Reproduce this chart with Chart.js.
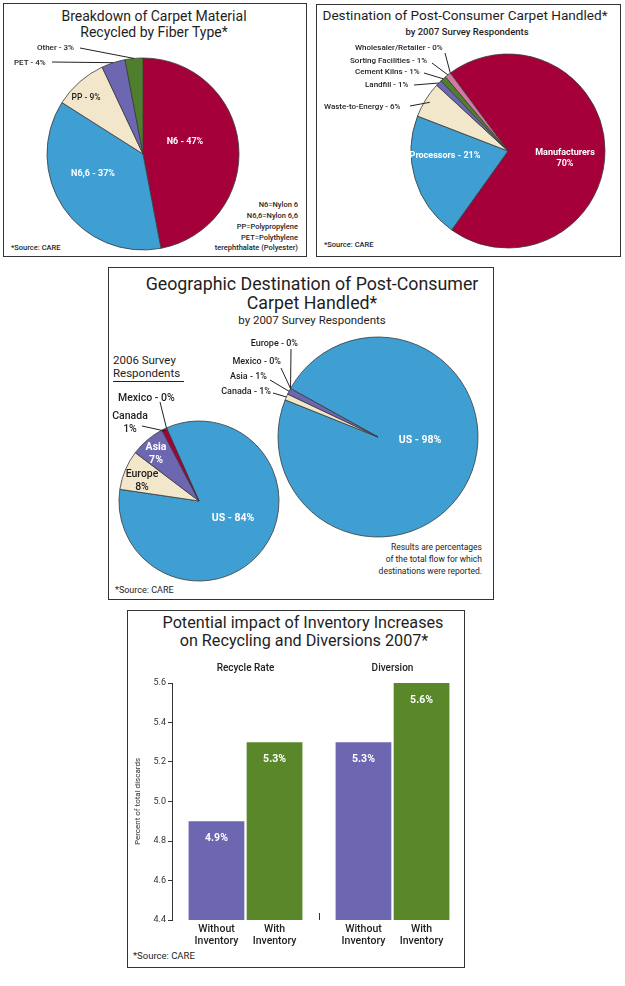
<!DOCTYPE html>
<html>
<head>
<meta charset="utf-8">
<script src="https://cdn.jsdelivr.net/npm/chart.js@4.4.1/dist/chart.umd.min.js"></script>
<style>
  body { margin: 0; background: #fff; width: 625px; height: 986px; position: relative; overflow: hidden;
         font-family: Roboto, "DejaVu Sans", sans-serif; color: #1e1e1e; }
  .box { position: absolute; border: 1.5px solid #333; box-sizing: border-box; }
  .t { position: absolute; white-space: nowrap; line-height: 1; transform: translate(-50%, -50%); }
  .l { transform: translate(0, -50%); }
  .r { transform: translate(-100%, -50%); text-align: right; }
  .s { font-weight: 500; }
  canvas { position: absolute; left: 0; top: 0; }
</style>
</head>
<body>
<div class="box" style="left:3px;top:3px;width:304px;height:254px"></div>
<div class="box" style="left:316px;top:4px;width:305px;height:253px"></div>
<div class="box" style="left:108px;top:267px;width:386px;height:333px"></div>
<div class="box" style="left:127px;top:610px;width:338px;height:358px"></div>

<!-- panel 1 -->
<div class="t" style="left:154px;top:16px;font-size:14px">Breakdown of Carpet Material</div>
<div class="t" style="left:154px;top:32px;font-size:14px">Recycled by Fiber Type*</div>
<div class="t r s" style="left:298px;top:205px;font-size:7.5px">N6=Nylon 6</div>
<div class="t r s" style="left:298px;top:216px;font-size:7.5px">N6,6=Nylon 6,6</div>
<div class="t r s" style="left:298px;top:227px;font-size:7.5px">PP=Polypropylene</div>
<div class="t r s" style="left:298px;top:238px;font-size:7.5px">PET=Polythylene</div>
<div class="t r s" style="left:298px;top:248px;font-size:7.5px">terephthalate (Polyester)</div>
<div class="t l s" style="left:11px;top:248px;font-size:7.5px">*Source: CARE</div>

<!-- panel 2 -->
<div class="t" style="left:465px;top:16px;font-size:13.6px">Destination of Post-Consumer Carpet Handled*</div>
<div class="t s" style="left:467px;top:32px;font-size:9.5px">by 2007 Survey Respondents</div>
<div class="t l s" style="left:324px;top:245px;font-size:7.5px">*Source: CARE</div>

<!-- panel 3 -->
<div class="t" style="left:312px;top:284px;font-size:17.8px">Geographic Destination of Post-Consumer</div>
<div class="t" style="left:312px;top:303px;font-size:17.8px">Carpet Handled*</div>
<div class="t" style="left:312px;top:321px;font-size:11.5px">by 2007 Survey Respondents</div>
<div style="position:absolute;left:113px;top:354px;font-size:11.5px;line-height:13px;border-bottom:1px solid #222;padding-bottom:1px;width:71px">2006 Survey<br>Respondents</div>
<div class="t r" style="left:482px;top:547px;font-size:8.5px">Results are percentages</div>
<div class="t r" style="left:482px;top:559px;font-size:8.5px">of the total flow for which</div>
<div class="t r" style="left:482px;top:571px;font-size:8.5px">destinations were reported.</div>
<div class="t l" style="left:115px;top:590px;font-size:9px">*Source: CARE</div>

<!-- panel 4 -->
<div class="t" style="left:303px;top:623px;font-size:16.2px">Potential impact of Inventory Increases</div>
<div class="t" style="left:304px;top:641px;font-size:16.2px">on Recycling and Diversions 2007*</div>
<div class="t l" style="left:133px;top:956px;font-size:9.5px">*Source: CARE</div>

<canvas id="fiberChart" width="625" height="986"></canvas>
<canvas id="destChart" width="625" height="986"></canvas>
<canvas id="geo2006Chart" width="625" height="986"></canvas>
<canvas id="geo2007Chart" width="625" height="986"></canvas>
<canvas id="invChart" width="338" height="290" style="left:128px;top:660px"></canvas>

<script>
Chart.defaults.animation = false;

// --- data ---
const fiberLabels = ['N6', 'N6,6', 'PP', 'PET', 'Other'];
const fiberValues = [47, 37, 9, 4, 3];

const destLabels = ['Manufacturers', 'Processors', 'Waste-to-Energy', 'Landfill', 'Cement Kilns', 'Sorting Facilities', 'Wholesaler/Retailer'];
const destValues = [70, 21, 6, 1, 1, 1, 0];

const geo2006Labels = ['US', 'Europe', 'Asia', 'Canada', 'Mexico'];
const geo2006Values = [84, 8, 7, 1, 0];

const geo2007Labels = ['US', 'Canada', 'Asia', 'Mexico', 'Europe'];
const geo2007Values = [98, 1, 1, 0, 0];

const invGroups = ['Recycle Rate', 'Diversion'];
const invSeries = ['Without Inventory', 'With Inventory'];
const invWithout = [4.9, 5.3];
const invWith = [5.3, 5.6];
const yTicks = [4.4, 4.6, 4.8, 5.0, 5.2, 5.4, 5.6];

// --- look ---
const W = 625, H = 986;
const FONT = 'Roboto, "DejaVu Sans", sans-serif';
const RED = '#A5003A', BLUE = '#3F9FD3', BEIGE = '#F3E7CB', PURPLE = '#6C67B0', GREEN = '#4F7F2C', PINK = '#D47AA2';

// labels + leader lines for pie slices
const sliceText = {
  id: 'sliceText',
  afterDraw(chart, args, opts) {
    const ctx = chart.ctx;
    const meta = chart.getDatasetMeta(0);
    const labels = chart.data.labels, values = chart.data.datasets[0].data;
    (opts.items || []).forEach((it, i) => {
      if (!it) return;
      const arc = meta.data[i];
      const size = it.size || 8;
      const lines = it.stack ? [labels[i], values[i] + '%'] : [labels[i] + ' - ' + values[i] + '%'];
      ctx.save();
      ctx.font = (it.bold ? 'bold ' : '500 ') + size + 'px ' + FONT;
      ctx.fillStyle = it.color || '#1e1e1e';
      ctx.textAlign = it.align || 'center';
      ctx.textBaseline = 'middle';
      const lh = size * 1.2;
      lines.forEach((s, k) => ctx.fillText(s, it.x, it.y + (k - (lines.length - 1) / 2) * lh));
      if (it.from) {
        const mid = (arc.startAngle + arc.endAngle) / 2;
        const r = arc.outerRadius * (it.f || 1);
        ctx.strokeStyle = '#222';
        ctx.lineWidth = 1;
        ctx.beginPath();
        ctx.moveTo(it.from[0], it.from[1]);
        ctx.lineTo(arc.x + Math.cos(mid) * r, arc.y + Math.sin(mid) * r);
        ctx.stroke();
      }
      ctx.restore();
    });
  }
};

function makePie(id, labels, values, colors, rotation, cx, cy, r, items) {
  new Chart(document.getElementById(id), {
    type: 'pie',
    data: { labels: labels, datasets: [{ data: values, backgroundColor: colors, borderColor: '#3a3a3a', borderWidth: 0.8 }] },
    options: {
      responsive: false, animation: false, events: [],
      rotation: rotation, radius: r,
      layout: { padding: { left: cx - r - 3, right: W - cx - r - 3, top: cy - r - 3, bottom: H - cy - r - 3 } },
      plugins: { legend: { display: false }, tooltip: { enabled: false }, sliceText: { items: items } }
    },
    plugins: [sliceText]
  });
}

makePie('fiberChart', fiberLabels, fiberValues, [RED, BLUE, BEIGE, PURPLE, GREEN], 0, 143, 154, 96, [
  { x: 185, y: 142, color: '#fff', bold: true, size: 9 },
  { x: 93, y: 174, color: '#fff', bold: true, size: 9 },
  { x: 86, y: 98, size: 8.5 },
  { x: 14, y: 63, align: 'left', from: [52, 62] },
  { x: 37, y: 48, align: 'left', from: [80, 48] }
]);

makePie('destChart', destLabels, destValues, [RED, BLUE, BEIGE, PURPLE, GREEN, PINK, '#999'], -36.5, 508, 151, 97, [
  { x: 565, y: 158, color: '#fff', bold: true, size: 9, stack: true },
  { x: 445, y: 156, color: '#fff', bold: true, size: 9 },
  { x: 324, y: 107, align: 'left', from: [410, 106], f: 0.95 },
  { x: 365, y: 85, align: 'left', from: [414, 85] },
  { x: 355, y: 72, align: 'left', from: [424, 73] },
  { x: 350, y: 61, align: 'left', from: [432, 63] },
  { x: 355, y: 48, align: 'left', from: [445, 53] }
]);

makePie('geo2006Chart', geo2006Labels, geo2006Values, [BLUE, BEIGE, PURPLE, RED, '#999'], -24, 199, 501, 80, [
  { x: 233, y: 518, color: '#fff', bold: true, size: 10.5 },
  { x: 142, y: 481, size: 10.5, stack: true },
  { x: 156, y: 454, color: '#fff', bold: true, size: 10.5, stack: true },
  { x: 130, y: 423, size: 10.5, stack: true, from: [142, 426], f: 0.97 },
  { x: 118, y: 398, size: 10.5, align: 'left', from: [160, 402] }
]);

makePie('geo2007Chart', geo2007Labels, geo2007Values, [BLUE, BEIGE, PURPLE, '#999', '#999'], -61, 378, 437, 100, [
  { x: 420, y: 440, color: '#fff', bold: true, size: 10.5 },
  { x: 271, y: 392, size: 9, align: 'right', from: [273, 393] },
  { x: 267, y: 377, size: 9, align: 'right', from: [270, 380] },
  { x: 281, y: 362, size: 9, align: 'right', from: [281, 368] },
  { x: 298, y: 344, size: 9, align: 'right', from: [291, 349] }
]);

// group names above, value labels inside bars, two-line series names under them
const barText = {
  id: 'barText',
  afterDatasetsDraw(chart) {
    const ctx = chart.ctx;
    const area = chart.chartArea;
    const xs = chart.scales.x;
    ctx.save();
    ctx.textAlign = 'center';
    ctx.textBaseline = 'middle';
    ctx.fillStyle = '#222';
    ctx.font = '500 10px ' + FONT;
    chart.data.labels.forEach((g, j) => ctx.fillText(g, xs.getPixelForValue(j), area.top - 15));
    chart.data.datasets.forEach((ds, i) => {
      chart.getDatasetMeta(i).data.forEach((bar, j) => {
        ctx.fillStyle = '#fff';
        ctx.font = 'bold 10.5px ' + FONT;
        ctx.fillText(ds.data[j].toFixed(1) + '%', bar.x, bar.y + 17);
        ctx.fillStyle = '#1e1e1e';
        ctx.font = '500 10.5px ' + FONT;
        ds.label.split(' ').forEach((w, k) => ctx.fillText(w, bar.x, area.bottom + 9 + k * 12));
      });
    });
    const mx = Math.round((xs.getPixelForValue(0) + xs.getPixelForValue(1)) / 2) + 0.5;
    ctx.strokeStyle = '#333';
    ctx.lineWidth = 1;
    ctx.beginPath();
    ctx.moveTo(mx, area.bottom);
    ctx.lineTo(mx, area.bottom - 7);
    ctx.stroke();
    ctx.restore();
  }
};

new Chart(document.getElementById('invChart'), {
  type: 'bar',
  data: {
    labels: invGroups,
    datasets: [
      { label: invSeries[0], data: invWithout, backgroundColor: '#6D67B1', categoryPercentage: 0.79, barPercentage: 0.96 },
      { label: invSeries[1], data: invWith, backgroundColor: '#5B872B', categoryPercentage: 0.79, barPercentage: 0.96 }
    ]
  },
  options: {
    responsive: false, animation: false, events: [],
    layout: { padding: { left: 0, right: 0, top: 0, bottom: 30 } },
    scales: {
      x: {
        position: 'top',
        grid: { display: false }, border: { display: false },
        ticks: { display: false },
        afterFit(s) { s.height = 23; }
      },
      y: {
        min: 4.4, max: 5.6,
        afterBuildTicks(s) { s.ticks = yTicks.map(v => ({ value: v })); },
        afterFit(s) { s.width = 44; },
        grid: { drawOnChartArea: false, tickLength: 4, color: '#333' },
        border: { color: '#333' },
        ticks: { padding: 2, color: '#333', font: { size: 9, family: FONT }, callback: v => v.toFixed(1) },
        title: { display: true, text: 'Percent of total discards', color: '#333', font: { size: 8, family: FONT }, padding: { top: 5, bottom: 0 } }
      }
    },
    plugins: { legend: { display: false }, tooltip: { enabled: false } }
  },
  plugins: [barText]
});
</script>
</body>
</html>
